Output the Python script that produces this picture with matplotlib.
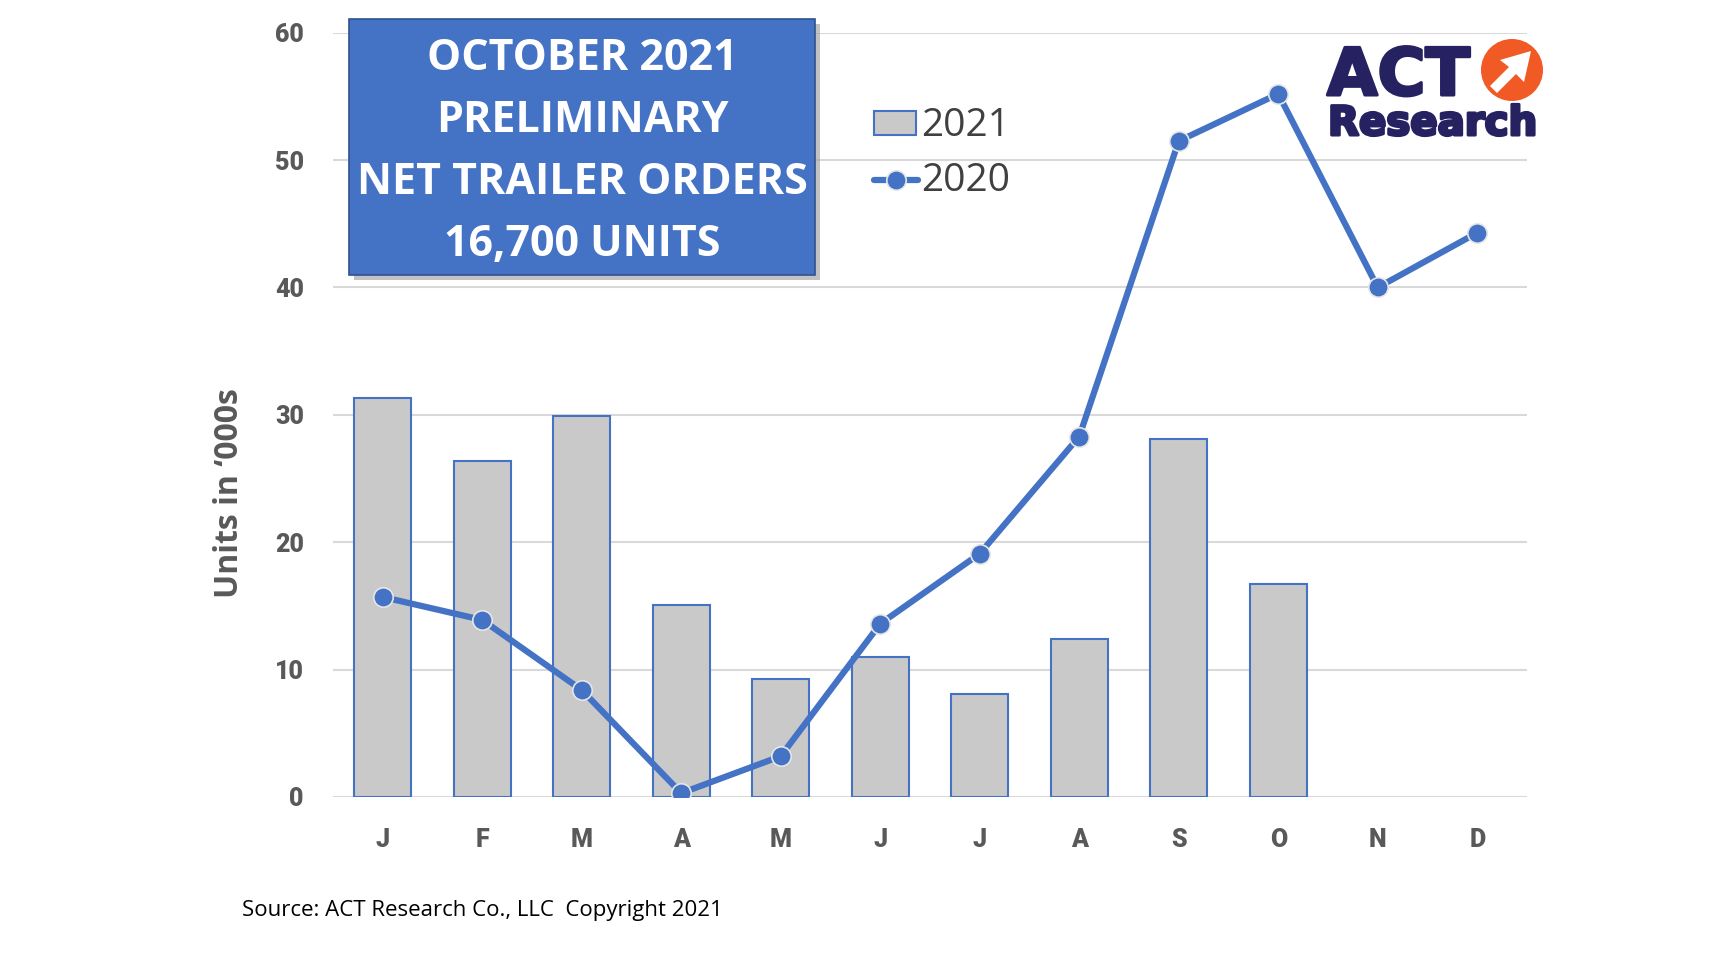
import numpy as np
import matplotlib
matplotlib.use("Agg")
import matplotlib.pyplot as plt
import matplotlib.patheffects as pe
from matplotlib.patches import Rectangle, Circle, Polygon
from matplotlib.lines import Line2D

months = ["J", "F", "M", "A", "M", "J", "J", "A", "S", "O", "N", "D"]
orders_2021 = [31.3, 26.4, 29.9, 15.1, 9.3, 11.0, 8.1, 12.4, 28.1, 16.7, np.nan, np.nan]
orders_2020 = [15.7, 13.9, 8.4, 0.3, 3.2, 13.6, 19.1, 28.3, 51.5, 55.2, 40.0, 44.3]
yticks = [0, 10, 20, 30, 40, 50, 60]

blue = "#4472C4"
grey_txt = "#595959"

fig = plt.figure(figsize=(17.1, 9.63), dpi=100)
ax = fig.add_axes([0.1947, 0.1724, 0.6983, 0.7936])

x = np.arange(len(months))
ax.bar(x, orders_2021, width=0.57, color="#C9C9C9", edgecolor=blue, linewidth=1.5, zorder=2)
ax.plot(x, orders_2020, color=blue, lw=4.5, marker="o", ms=14, mfc=blue,
        mec="#E6E6E6", mew=1.2, zorder=3, solid_capstyle="round")

ax.set_xlim(-0.5, 11.5)
ax.set_ylim(0, 60)
ax.set_yticks(yticks)
ax.set_xticks(x)
ax.set_xticklabels(months)
ax.grid(axis="y", color="#D9D9D9", lw=1.5, zorder=0)
for s in ax.spines.values():
    s.set_visible(False)
ax.tick_params(length=0, labelsize=18, labelcolor=grey_txt)
ax.tick_params(axis="y", pad=21)
ax.tick_params(axis="x", pad=22)
for lab in ax.get_xticklabels() + ax.get_yticklabels():
    lab.set_fontweight("black")
    lab.set_family("Roboto")

fig.text(0.134, 0.488, "Units in \u2018000s", rotation=90, ha="center", va="center",
         fontsize=23, fontweight="bold", color=grey_txt, family="Open Sans")

# title box with shadow
bx0, by0, bw, bh = 349 / 1710, 1 - 275 / 963, (815 - 349) / 1710, (275 - 19) / 963
fig.patches.append(Rectangle((bx0 + 0.003, by0 - 0.005), bw, bh, transform=fig.transFigure,
                             facecolor="#9a9a9a", alpha=0.6, edgecolor="none", zorder=4))
fig.patches.append(Rectangle((bx0, by0), bw, bh, transform=fig.transFigure,
                             facecolor=blue, edgecolor="#2F528F", lw=1.2, zorder=5))
title_lines = ["OCTOBER 2021", "PRELIMINARY", "NET TRAILER ORDERS", "16,700 UNITS"]
for i, t in enumerate(title_lines):
    fig.text(bx0 + bw / 2, 1 - (58 + 62 * i) / 963, t, ha="center", va="center",
             fontsize=31, fontweight="bold", color="white", family="Open Sans", zorder=6)

# legend
lg = fig.add_axes([0, 0, 1, 1], facecolor="none")
lg.set_xlim(0, 1710)
lg.set_ylim(963, 0)
lg.axis("off")
lg.add_patch(Rectangle((874, 111), 42, 24, facecolor="#C9C9C9", edgecolor=blue, lw=1.5))
lg.text(921, 126, "2021", ha="left", va="center", fontsize=28, color="#404040", family="Open Sans")
lg.add_line(Line2D([874, 918], [180, 180], color=blue, lw=4.5, solid_capstyle="round"))
lg.plot([896], [180], marker="o", ms=14, mfc=blue, mec="#E6E6E6", mew=1.2)
lg.text(921, 181, "2020", ha="left", va="center", fontsize=28, color="#404040", family="Open Sans")

# logo
navy = "#262262"
thick = [pe.withStroke(linewidth=2.2, foreground=navy)]
lg.text(1327, 95, "ACT", ha="left", va="baseline", fontsize=47, fontweight="bold",
        color=navy, family="DejaVu Sans", path_effects=thick)
lg.text(1328, 135, "Research", ha="left", va="baseline", fontsize=29, fontweight="bold",
        color=navy, family="DejaVu Sans", path_effects=thick)
lg.add_patch(Circle((1512, 70), 31, facecolor="#F15A24", edgecolor="none"))
arrow = [(1490, 86), (1509, 67), (1500, 60), (1531, 51), (1524, 82), (1516, 74), (1497, 93)]
lg.add_patch(Polygon(arrow, closed=True, facecolor="white", edgecolor="none"))

fig.text(242 / 1710, 1 - 910 / 963, "Source: ACT Research Co., LLC  Copyright 2021",
         ha="left", va="center", fontsize=16, color="black", family="Open Sans")

fig.savefig("out.png", dpi=100)
